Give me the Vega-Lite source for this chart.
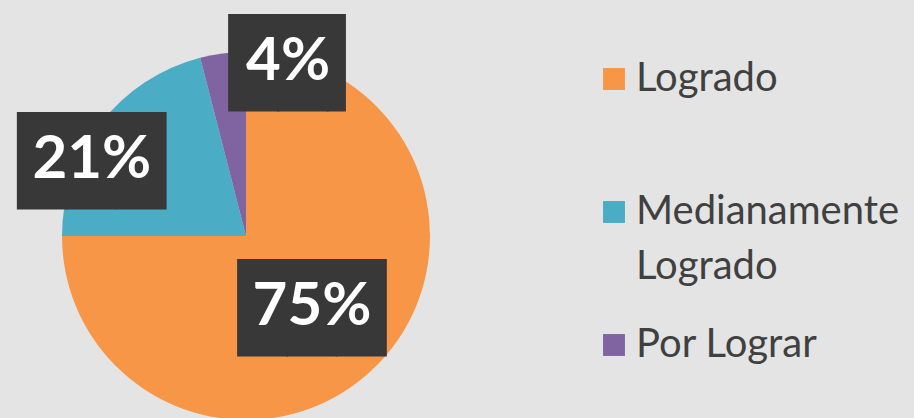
{
  "$schema": "https://vega.github.io/schema/vega-lite/v6.json",
  "width": 492,
  "height": 472,
  "padding": {"left": 0, "top": 0, "right": 19, "bottom": 0},
  "background": "#e4e4e4",
  "view": {"stroke": null},
  "config": {
    "font": "Lato",
    "style": {"guide-label": {"lineHeight": 55}}
  },
  "data": {
    "values": [
      {"cat": "Logrado", "value": 75},
      {"cat": "Medianamente Logrado", "value": 21},
      {"cat": "Por Lograr", "value": 4}
    ]
  },
  "encoding": {
    "theta": {"field": "value", "type": "quantitative", "stack": true}
  },
  "layer": [
    {
      "mark": {"type": "arc", "outerRadius": 184},
      "encoding": {
        "color": {
          "field": "cat",
          "type": "nominal",
          "scale": {"domain": ["Logrado", "Medianamente Logrado", "Por Lograr"], "range": ["#F79646", "#4BACC6", "#8064A2"]},
          "legend": {
            "orient": "none",
            "legendX": 594,
            "legendY": 59,
            "title": null,
            "symbolType": "square",
            "symbolSize": 480,
            "symbolStrokeWidth": 0,
            "labelFontSize": 40,
            "labelFont": "Lato",
            "labelColor": "#404040",
            "labelOffset": 2,
            "labelLimit": 400,
            "gridAlign": "all",
            "rowPadding": 38,
            "labelExpr": "datum.label == 'Medianamente Logrado' ? ['Medianamente', 'Logrado'] : datum.label"
          }
        }
      }
    },
    {
      "mark": {"type": "text", "font": "DejaVu Sans Mono", "fontSize": 82, "color": "#383838", "baseline": "middle", "radius": 97, "thetaOffset": 0.037, "dy": 4},
      "encoding": {
        "detail": {"field": "cat"},
        "text": {"condition": {"test": "datum.cat == 'Logrado'", "value": "███"}, "value": ""}
      }
    },
    {
      "mark": {"type": "text", "font": "DejaVu Sans Mono", "fontSize": 82, "color": "#383838", "baseline": "middle", "radius": 172, "thetaOffset": -0.201, "dy": 4},
      "encoding": {
        "detail": {"field": "cat"},
        "text": {"condition": {"test": "datum.cat == 'Medianamente Logrado'", "value": "███"}, "value": ""}
      }
    },
    {
      "mark": {"type": "text", "font": "DejaVu Sans Mono", "fontSize": 82, "color": "#383838", "baseline": "middle", "radius": 179, "thetaOffset": 0.363, "dx": 15, "dy": 4},
      "encoding": {
        "detail": {"field": "cat"},
        "text": {"condition": {"test": "datum.cat == 'Por Lograr'", "value": "██▍"}, "value": ""}
      }
    },
    {
      "mark": {"type": "text", "font": "Lato", "fontWeight": "bold", "fontSize": 60, "color": "white", "baseline": "middle", "radius": 97, "thetaOffset": 0.037},
      "encoding": {
        "detail": {"field": "cat"},
        "text": {"condition": {"test": "datum.cat == 'Logrado'", "value": "75%"}, "value": ""}
      }
    },
    {
      "mark": {"type": "text", "font": "Lato", "fontWeight": "bold", "fontSize": 60, "color": "white", "baseline": "middle", "radius": 172, "thetaOffset": -0.201},
      "encoding": {
        "detail": {"field": "cat"},
        "text": {"condition": {"test": "datum.cat == 'Medianamente Logrado'", "value": "21%"}, "value": ""}
      }
    },
    {
      "mark": {"type": "text", "font": "Lato", "fontWeight": "bold", "fontSize": 60, "color": "white", "baseline": "middle", "radius": 179, "thetaOffset": 0.363},
      "encoding": {
        "detail": {"field": "cat"},
        "text": {"condition": {"test": "datum.cat == 'Por Lograr'", "value": "4%"}, "value": ""}
      }
    }
  ]
}
